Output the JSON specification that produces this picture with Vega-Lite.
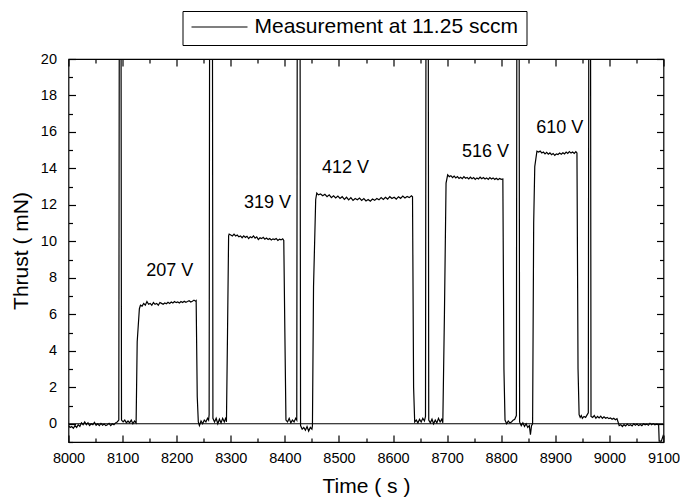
{
  "$schema": "https://vega.github.io/schema/vega-lite/v6.json",
  "width": 595,
  "height": 383,
  "autosize": {"type": "none"},
  "padding": {"left": 68.5, "top": 59, "right": 16.5, "bottom": 61},
  "datasets": {
    "trace": [
      {"time":8000,"thrust":-0.1},{"time":8003,"thrust":-0.2},{"time":8006,"thrust":-0.15},{"time":8009,"thrust":-0.25},{"time":8012,"thrust":-0.1},{"time":8015,"thrust":-0.2},{"time":8018,"thrust":-0.05},{"time":8021,"thrust":-0.15},{"time":8024,"thrust":0.05},{"time":8027,"thrust":-0.05},{"time":8030,"thrust":0.1},{"time":8033,"thrust":-0.05},{"time":8036,"thrust":0.05},{"time":8039,"thrust":-0.1},{"time":8042,"thrust":0.0},{"time":8045,"thrust":-0.05},{"time":8048,"thrust":0.08},{"time":8051,"thrust":-0.08},{"time":8054,"thrust":0.0},{"time":8057,"thrust":-0.1},{"time":8060,"thrust":0.02},{"time":8063,"thrust":-0.08},{"time":8066,"thrust":-0.02},{"time":8069,"thrust":-0.1},{"time":8072,"thrust":-0.05},{"time":8075,"thrust":0.02},{"time":8078,"thrust":-0.1},{"time":8081,"thrust":0.0},{"time":8084,"thrust":-0.05},{"time":8087,"thrust":0.05},{"time":8090,"thrust":0.1},{"time":8093,"thrust":0.2},
      {"time":8094,"thrust":25},{"time":8097,"thrust":25},{"time":8098,"thrust":0.2},
      {"time":8101,"thrust":0.1},{"time":8104,"thrust":0.2},{"time":8107,"thrust":0.05},{"time":8110,"thrust":0.15},{"time":8113,"thrust":0.05},{"time":8116,"thrust":0.2},{"time":8119,"thrust":0.0},{"time":8122,"thrust":0.15},{"time":8125,"thrust":0.05},
      {"time":8127,"thrust":4.5},{"time":8131,"thrust":6.3},{"time":8133,"thrust":6.5},
      {"time":8136,"thrust":6.45},{"time":8139,"thrust":6.6},{"time":8142,"thrust":6.5},{"time":8145,"thrust":6.7},{"time":8148,"thrust":6.55},{"time":8151,"thrust":6.6},{"time":8154,"thrust":6.5},{"time":8157,"thrust":6.65},{"time":8160,"thrust":6.55},{"time":8163,"thrust":6.6},{"time":8166,"thrust":6.5},{"time":8169,"thrust":6.65},{"time":8172,"thrust":6.6},{"time":8175,"thrust":6.55},{"time":8178,"thrust":6.62},{"time":8181,"thrust":6.58},{"time":8184,"thrust":6.66},{"time":8187,"thrust":6.6},{"time":8190,"thrust":6.68},{"time":8193,"thrust":6.62},{"time":8196,"thrust":6.7},{"time":8199,"thrust":6.64},{"time":8202,"thrust":6.68},{"time":8205,"thrust":6.62},{"time":8208,"thrust":6.7},{"time":8211,"thrust":6.65},{"time":8214,"thrust":6.72},{"time":8217,"thrust":6.66},{"time":8220,"thrust":6.7},{"time":8223,"thrust":6.75},{"time":8226,"thrust":6.68},{"time":8229,"thrust":6.72},{"time":8232,"thrust":6.78},{"time":8235,"thrust":6.72},{"time":8236,"thrust":6.75},
      {"time":8238,"thrust":1.5},{"time":8240,"thrust":0.1},
      {"time":8242,"thrust":-0.1},{"time":8245,"thrust":0.15},{"time":8248,"thrust":0.0},{"time":8251,"thrust":0.2},{"time":8254,"thrust":0.1},{"time":8257,"thrust":0.3},{"time":8259,"thrust":0.2},{"time":8260,"thrust":0.5},
      {"time":8261,"thrust":25},{"time":8266,"thrust":25},{"time":8267,"thrust":0.3},
      {"time":8270,"thrust":0.1},{"time":8273,"thrust":0.3},{"time":8276,"thrust":0.0},{"time":8279,"thrust":0.25},{"time":8282,"thrust":0.05},{"time":8285,"thrust":0.3},{"time":8288,"thrust":0.1},{"time":8291,"thrust":0.35},{"time":8292,"thrust":0.1},
      {"time":8294,"thrust":5},{"time":8296,"thrust":10.3},{"time":8297,"thrust":10.4},
      {"time":8300,"thrust":10.35},{"time":8303,"thrust":10.3},{"time":8306,"thrust":10.4},{"time":8309,"thrust":10.3},{"time":8312,"thrust":10.35},{"time":8315,"thrust":10.25},{"time":8318,"thrust":10.3},{"time":8321,"thrust":10.2},{"time":8324,"thrust":10.3},{"time":8327,"thrust":10.22},{"time":8330,"thrust":10.28},{"time":8333,"thrust":10.15},{"time":8336,"thrust":10.25},{"time":8339,"thrust":10.2},{"time":8342,"thrust":10.3},{"time":8345,"thrust":10.18},{"time":8348,"thrust":10.25},{"time":8351,"thrust":10.1},{"time":8354,"thrust":10.2},{"time":8357,"thrust":10.15},{"time":8360,"thrust":10.22},{"time":8363,"thrust":10.12},{"time":8366,"thrust":10.18},{"time":8369,"thrust":10.1},{"time":8372,"thrust":10.16},{"time":8375,"thrust":10.08},{"time":8378,"thrust":10.14},{"time":8381,"thrust":10.1},{"time":8384,"thrust":10.16},{"time":8387,"thrust":10.05},{"time":8390,"thrust":10.12},{"time":8393,"thrust":10.08},{"time":8396,"thrust":10.14},{"time":8398,"thrust":10.05},
      {"time":8400,"thrust":5},{"time":8402,"thrust":0.2},
      {"time":8405,"thrust":0.1},{"time":8408,"thrust":0.3},{"time":8411,"thrust":0.05},{"time":8414,"thrust":0.2},{"time":8417,"thrust":0.1},{"time":8420,"thrust":0.3},{"time":8422,"thrust":0.2},
      {"time":8423,"thrust":25},{"time":8428,"thrust":25},{"time":8429,"thrust":-0.1},
      {"time":8432,"thrust":-0.3},{"time":8435,"thrust":-0.2},{"time":8438,"thrust":-0.35},{"time":8441,"thrust":-0.15},{"time":8444,"thrust":-0.4},{"time":8447,"thrust":-0.2},{"time":8450,"thrust":-0.3},{"time":8451,"thrust":-0.1},
      {"time":8453,"thrust":7.5},{"time":8457,"thrust":12.3},{"time":8459,"thrust":12.65},
      {"time":8462,"thrust":12.55},{"time":8466,"thrust":12.6},{"time":8470,"thrust":12.5},{"time":8474,"thrust":12.58},{"time":8478,"thrust":12.45},{"time":8482,"thrust":12.55},{"time":8486,"thrust":12.4},{"time":8490,"thrust":12.5},{"time":8494,"thrust":12.38},{"time":8498,"thrust":12.48},{"time":8502,"thrust":12.35},{"time":8506,"thrust":12.45},{"time":8510,"thrust":12.3},{"time":8514,"thrust":12.42},{"time":8518,"thrust":12.28},{"time":8522,"thrust":12.4},{"time":8526,"thrust":12.25},{"time":8530,"thrust":12.35},{"time":8534,"thrust":12.28},{"time":8538,"thrust":12.38},{"time":8542,"thrust":12.25},{"time":8546,"thrust":12.35},{"time":8550,"thrust":12.22},{"time":8554,"thrust":12.3},{"time":8558,"thrust":12.2},{"time":8562,"thrust":12.32},{"time":8566,"thrust":12.25},{"time":8570,"thrust":12.35},{"time":8574,"thrust":12.28},{"time":8578,"thrust":12.4},{"time":8582,"thrust":12.3},{"time":8586,"thrust":12.42},{"time":8590,"thrust":12.32},{"time":8594,"thrust":12.45},{"time":8598,"thrust":12.35},{"time":8602,"thrust":12.42},{"time":8606,"thrust":12.32},{"time":8610,"thrust":12.45},{"time":8614,"thrust":12.36},{"time":8618,"thrust":12.48},{"time":8622,"thrust":12.38},{"time":8626,"thrust":12.46},{"time":8630,"thrust":12.4},{"time":8634,"thrust":12.5},{"time":8636,"thrust":12.45},
      {"time":8638,"thrust":2},{"time":8640,"thrust":0.1},
      {"time":8643,"thrust":0.2},{"time":8646,"thrust":0.05},{"time":8649,"thrust":0.25},{"time":8652,"thrust":0.1},{"time":8655,"thrust":0.3},{"time":8658,"thrust":0.15},{"time":8660,"thrust":0.4},
      {"time":8661,"thrust":25},{"time":8665,"thrust":25},{"time":8666,"thrust":0.2},
      {"time":8669,"thrust":0.05},{"time":8672,"thrust":0.25},{"time":8675,"thrust":0.0},{"time":8678,"thrust":0.2},{"time":8681,"thrust":0.05},{"time":8684,"thrust":0.3},{"time":8687,"thrust":0.1},{"time":8690,"thrust":0.25},{"time":8692,"thrust":0.05},
      {"time":8695,"thrust":6},{"time":8698,"thrust":13.2},{"time":8701,"thrust":13.65},
      {"time":8704,"thrust":13.55},{"time":8707,"thrust":13.6},{"time":8710,"thrust":13.5},{"time":8713,"thrust":13.58},{"time":8716,"thrust":13.48},{"time":8719,"thrust":13.55},{"time":8722,"thrust":13.45},{"time":8725,"thrust":13.52},{"time":8728,"thrust":13.44},{"time":8731,"thrust":13.55},{"time":8734,"thrust":13.46},{"time":8737,"thrust":13.5},{"time":8740,"thrust":13.42},{"time":8743,"thrust":13.52},{"time":8746,"thrust":13.44},{"time":8749,"thrust":13.5},{"time":8752,"thrust":13.4},{"time":8755,"thrust":13.48},{"time":8758,"thrust":13.42},{"time":8761,"thrust":13.52},{"time":8764,"thrust":13.44},{"time":8767,"thrust":13.5},{"time":8770,"thrust":13.42},{"time":8773,"thrust":13.48},{"time":8776,"thrust":13.4},{"time":8779,"thrust":13.5},{"time":8782,"thrust":13.42},{"time":8785,"thrust":13.48},{"time":8788,"thrust":13.4},{"time":8791,"thrust":13.46},{"time":8794,"thrust":13.38},{"time":8797,"thrust":13.45},{"time":8800,"thrust":13.4},{"time":8803,"thrust":13.42},
      {"time":8805,"thrust":3},{"time":8807,"thrust":0.2},
      {"time":8810,"thrust":0.0},{"time":8813,"thrust":0.15},{"time":8816,"thrust":0.05},{"time":8819,"thrust":0.1},{"time":8822,"thrust":0.2},{"time":8825,"thrust":0.25},{"time":8828,"thrust":0.45},
      {"time":8829,"thrust":25},{"time":8833,"thrust":25},{"time":8834,"thrust":0.1},
      {"time":8837,"thrust":-0.1},{"time":8840,"thrust":0.05},{"time":8843,"thrust":-0.15},{"time":8846,"thrust":0.0},{"time":8849,"thrust":-0.2},{"time":8852,"thrust":-0.1},{"time":8854,"thrust":-0.6},{"time":8856,"thrust":-0.1},{"time":8858,"thrust":0.0},
      {"time":8860,"thrust":11},{"time":8862,"thrust":14.1},{"time":8866,"thrust":14.95},
      {"time":8869,"thrust":14.9},{"time":8872,"thrust":14.95},{"time":8875,"thrust":14.85},{"time":8878,"thrust":14.9},{"time":8881,"thrust":14.8},{"time":8884,"thrust":14.88},{"time":8887,"thrust":14.78},{"time":8890,"thrust":14.85},{"time":8893,"thrust":14.75},{"time":8896,"thrust":14.82},{"time":8899,"thrust":14.72},{"time":8902,"thrust":14.8},{"time":8905,"thrust":14.76},{"time":8908,"thrust":14.84},{"time":8911,"thrust":14.78},{"time":8914,"thrust":14.86},{"time":8917,"thrust":14.8},{"time":8920,"thrust":14.9},{"time":8923,"thrust":14.82},{"time":8926,"thrust":14.92},{"time":8929,"thrust":14.84},{"time":8932,"thrust":14.9},{"time":8935,"thrust":14.82},{"time":8938,"thrust":14.92},{"time":8940,"thrust":14.85},
      {"time":8942,"thrust":3},{"time":8944,"thrust":0.5},
      {"time":8946,"thrust":0.35},{"time":8948,"thrust":0.45},{"time":8950,"thrust":0.3},{"time":8953,"thrust":0.4},{"time":8956,"thrust":0.35},{"time":8959,"thrust":0.5},{"time":8961,"thrust":0.6},
      {"time":8962,"thrust":25},{"time":8965,"thrust":25},{"time":8966,"thrust":0.4},
      {"time":8969,"thrust":0.35},{"time":8972,"thrust":0.45},{"time":8975,"thrust":0.3},{"time":8978,"thrust":0.4},{"time":8981,"thrust":0.32},{"time":8984,"thrust":0.42},{"time":8987,"thrust":0.3},{"time":8990,"thrust":0.38},{"time":8993,"thrust":0.3},{"time":8996,"thrust":0.35},{"time":8999,"thrust":0.28},{"time":9002,"thrust":0.32},{"time":9005,"thrust":0.25},{"time":9008,"thrust":0.3},{"time":9011,"thrust":0.22},{"time":9014,"thrust":0.28},{"time":9016,"thrust":0.1},{"time":9018,"thrust":-0.1},{"time":9021,"thrust":-0.05},{"time":9024,"thrust":-0.15},{"time":9027,"thrust":-0.05},{"time":9030,"thrust":-0.12},{"time":9033,"thrust":-0.02},{"time":9036,"thrust":-0.1},{"time":9039,"thrust":-0.05},{"time":9042,"thrust":-0.12},{"time":9045,"thrust":0.0},{"time":9048,"thrust":-0.08},{"time":9051,"thrust":-0.02},{"time":9054,"thrust":-0.1},{"time":9057,"thrust":-0.04},{"time":9060,"thrust":-0.1},{"time":9063,"thrust":0.0},{"time":9066,"thrust":-0.06},{"time":9069,"thrust":-0.02},{"time":9072,"thrust":-0.08},{"time":9075,"thrust":0.02},{"time":9078,"thrust":-0.05},{"time":9081,"thrust":0.0},{"time":9084,"thrust":-0.06},{"time":9087,"thrust":-0.02},{"time":9091,"thrust":-0.05},
      {"time":9092,"thrust":-0.95},{"time":9096,"thrust":-0.95},{"time":9100,"thrust":-0.6}
    ],
    "baseline": [{"time":8000,"thrust":0},{"time":9100,"thrust":0}],
    "labels": [
      {"time":8187,"thrust":8.4,"label":"207 V"},
      {"time":8368,"thrust":12.1,"label":"319 V"},
      {"time":8512,"thrust":14.0,"label":"412 V"},
      {"time":8771,"thrust":14.9,"label":"516 V"},
      {"time":8908,"thrust":16.2,"label":"610 V"}
    ]
  },
  "resolve": {"axis": {"x": "independent", "y": "independent"}},
  "layer": [
    {
      "data": {"name": "trace"},
      "mark": {"type": "line", "color": "black", "strokeWidth": 1.2, "clip": true},
      "encoding": {
        "x": {"field": "time", "type": "quantitative", "scale": {"domain": [8000, 9100], "nice": false, "zero": false},
              "axis": {"orient": "bottom", "values": [8000,8100,8200,8300,8400,8500,8600,8700,8800,8900,9000,9100], "format": "d", "labelOverlap": false, "labelFlush": false, "tickSize": -7, "labelPadding": 16, "title": "Time ( s )", "titlePadding": 11}},
        "y": {"field": "thrust", "type": "quantitative", "scale": {"domain": [-1, 20], "nice": false, "zero": false},
              "axis": {"orient": "left", "values": [0,2,4,6,8,10,12,14,16,18,20], "format": "d", "labelOverlap": false, "labelFlush": false, "tickSize": -7, "labelPadding": 19, "title": "Thrust ( mN)", "titlePadding": 9}},
        "color": {"datum": "Measurement at 11.25 sccm", "type": "nominal", "scale": {"range": ["black"]},
                  "legend": {"orient": "none", "legendX": 114, "legendY": -48, "title": null, "symbolType": "stroke", "symbolSize": 3136, "symbolStrokeWidth": 1.2, "symbolStrokeColor": "black", "clipHeight": 16, "labelFontSize": 21, "labelLimit": 0, "labelOffset": 6, "labelColor": "black", "padding": 8, "strokeColor": "black", "fillColor": "white"}}
      }
    },
    {
      "data": {"name": "labels"},
      "mark": {"type": "text", "fontSize": 18, "color": "black", "align": "center", "baseline": "middle"},
      "encoding": {
        "x": {"field": "time", "type": "quantitative", "axis": {"orient": "top", "values": [8000,8100,8200,8300,8400,8500,8600,8700,8800,8900,9000,9100], "tickSize": -7, "labels": false, "title": null}},
        "y": {"field": "thrust", "type": "quantitative", "axis": {"orient": "right", "values": [0,2,4,6,8,10,12,14,16,18,20], "tickSize": -7, "labels": false, "title": null}},
        "text": {"field": "label"}
      }
    },
    {
      "data": {"name": "baseline"},
      "mark": {"type": "line", "color": "black", "strokeWidth": 1.2},
      "encoding": {
        "x": {"field": "time", "type": "quantitative", "axis": {"orient": "bottom", "values": [8050,8150,8250,8350,8450,8550,8650,8750,8850,8950,9050], "tickSize": -4, "labels": false, "title": null}},
        "y": {"field": "thrust", "type": "quantitative", "axis": {"orient": "left", "values": [-1,1,3,5,7,9,11,13,15,17,19], "tickSize": -4, "labels": false, "title": null}}
      }
    },
    {
      "data": {"name": "labels"},
      "mark": {"type": "point", "opacity": 0, "size": 1},
      "encoding": {
        "x": {"field": "time", "type": "quantitative", "axis": {"orient": "top", "values": [8050,8150,8250,8350,8450,8550,8650,8750,8850,8950,9050], "tickSize": -4, "labels": false, "title": null}},
        "y": {"field": "thrust", "type": "quantitative", "axis": {"orient": "right", "values": [-1,1,3,5,7,9,11,13,15,17,19], "tickSize": -4, "labels": false, "title": null}}
      }
    }
  ],
  "config": {
    "font": "Liberation Sans",
    "view": {"stroke": "black", "strokeWidth": 1.2},
    "axis": {"grid": false, "domain": false, "tickColor": "black", "tickWidth": 1.2, "labelColor": "black", "titleColor": "black", "labelFontSize": 14.5, "titleFontSize": 21, "titleFontWeight": "normal", "labelFont": "Liberation Sans", "titleFont": "Liberation Sans"},
    "legend": {"labelFont": "Liberation Sans"},
    "text": {"font": "Liberation Sans"}
  }
}
